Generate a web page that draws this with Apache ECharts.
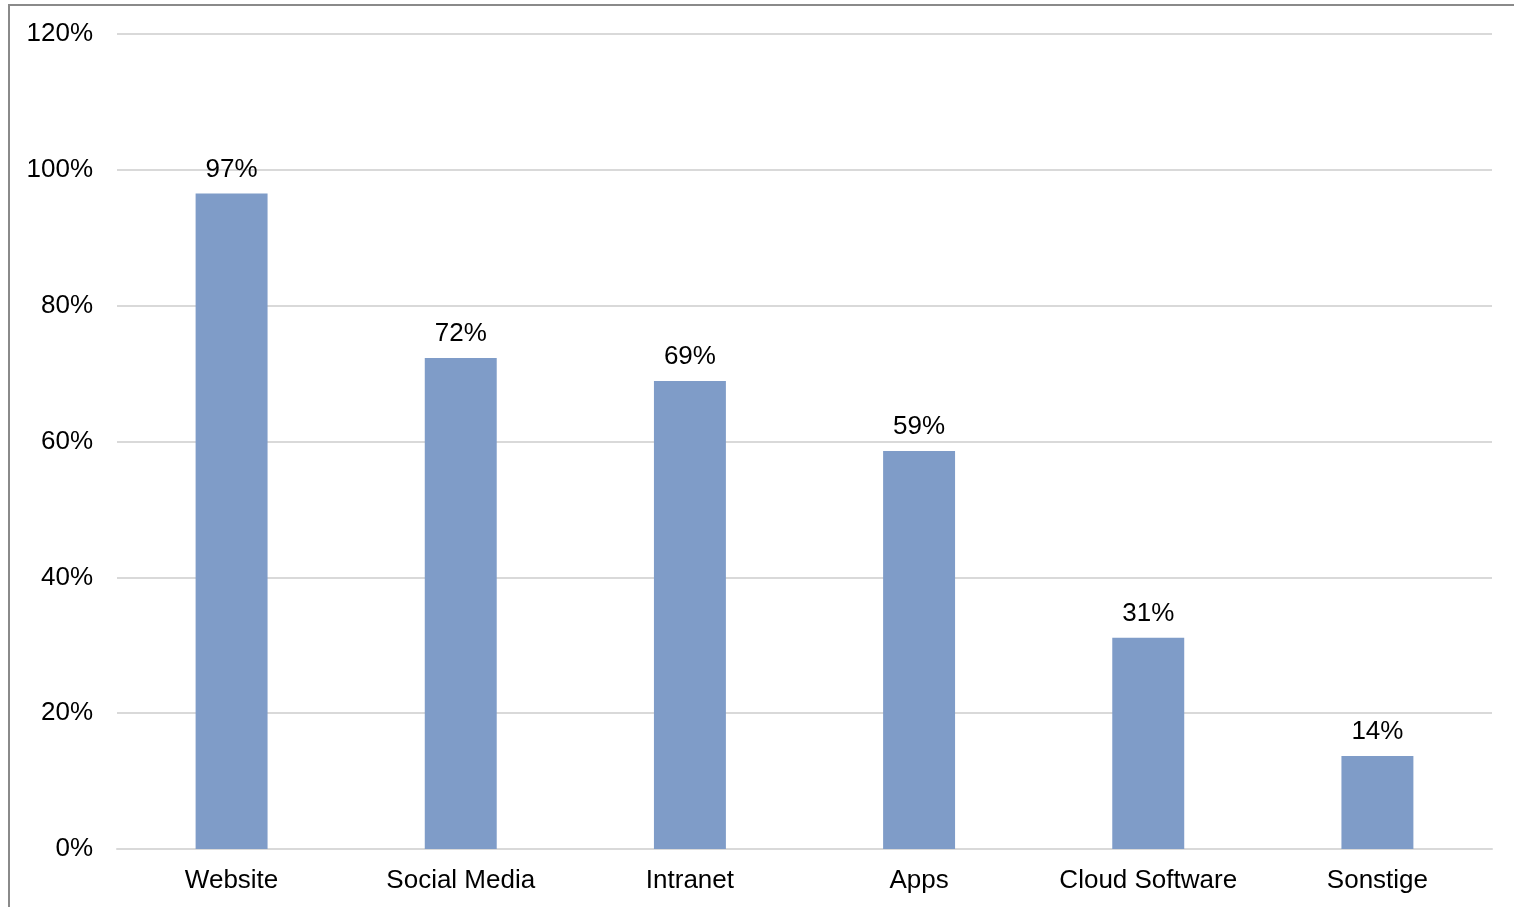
<!DOCTYPE html>
<html>
<head>
<meta charset="utf-8">
<script src="https://cdn.jsdelivr.net/npm/echarts@6/dist/echarts.min.js"></script>
<style>
html,body{margin:0;padding:0;background:#fff;}
#chart{width:1514px;height:907px;}
</style>
</head>
<body>
<div id="chart"></div>
<script>
const categories = ['Website', 'Social Media', 'Intranet', 'Apps', 'Cloud Software', 'Sonstige'];
const values = [96.5, 72.3, 68.9, 58.6, 31.1, 13.7];
const labels = ['97%', '72%', '69%', '59%', '31%', '14%'];

const chart = echarts.init(document.getElementById('chart'));
const font = 'Liberation Sans, Arial, sans-serif';
chart.setOption({
  animation: false,
  graphic: [{
    type: 'rect',
    shape: {x: 9, y: 5, width: 1540, height: 940},
    style: {fill: 'none', stroke: '#8a8a8a', lineWidth: 2},
    silent: true
  }],
  grid: {left: 117, right: 22, top: 34, bottom: 58, containLabel: false},
  xAxis: {
    type: 'category',
    data: categories,
    axisLine: {show: true, lineStyle: {color: '#d9d9d9', width: 2}},
    axisTick: {show: false},
    axisLabel: {color: '#000', fontFamily: font, fontSize: 26, margin: 19, interval: 0, hideOverlap: false}
  },
  yAxis: {
    type: 'value',
    min: 0, max: 120, interval: 20,
    axisLine: {show: false},
    axisTick: {show: false},
    splitLine: {lineStyle: {color: '#d9d9d9', width: 2}},
    axisLabel: {color: '#000', fontFamily: font, fontSize: 26, margin: 24, formatter: v => v + '%'}
  },
  series: [{
    type: 'bar',
    data: values,
    barWidth: '31.4%',
    itemStyle: {color: '#7f9cc8'},
    label: {
      show: true, position: 'top', distance: 11,
      color: '#000', fontFamily: font, fontSize: 26,
      formatter: p => labels[p.dataIndex]
    }
  }]
});
</script>
</body>
</html>
